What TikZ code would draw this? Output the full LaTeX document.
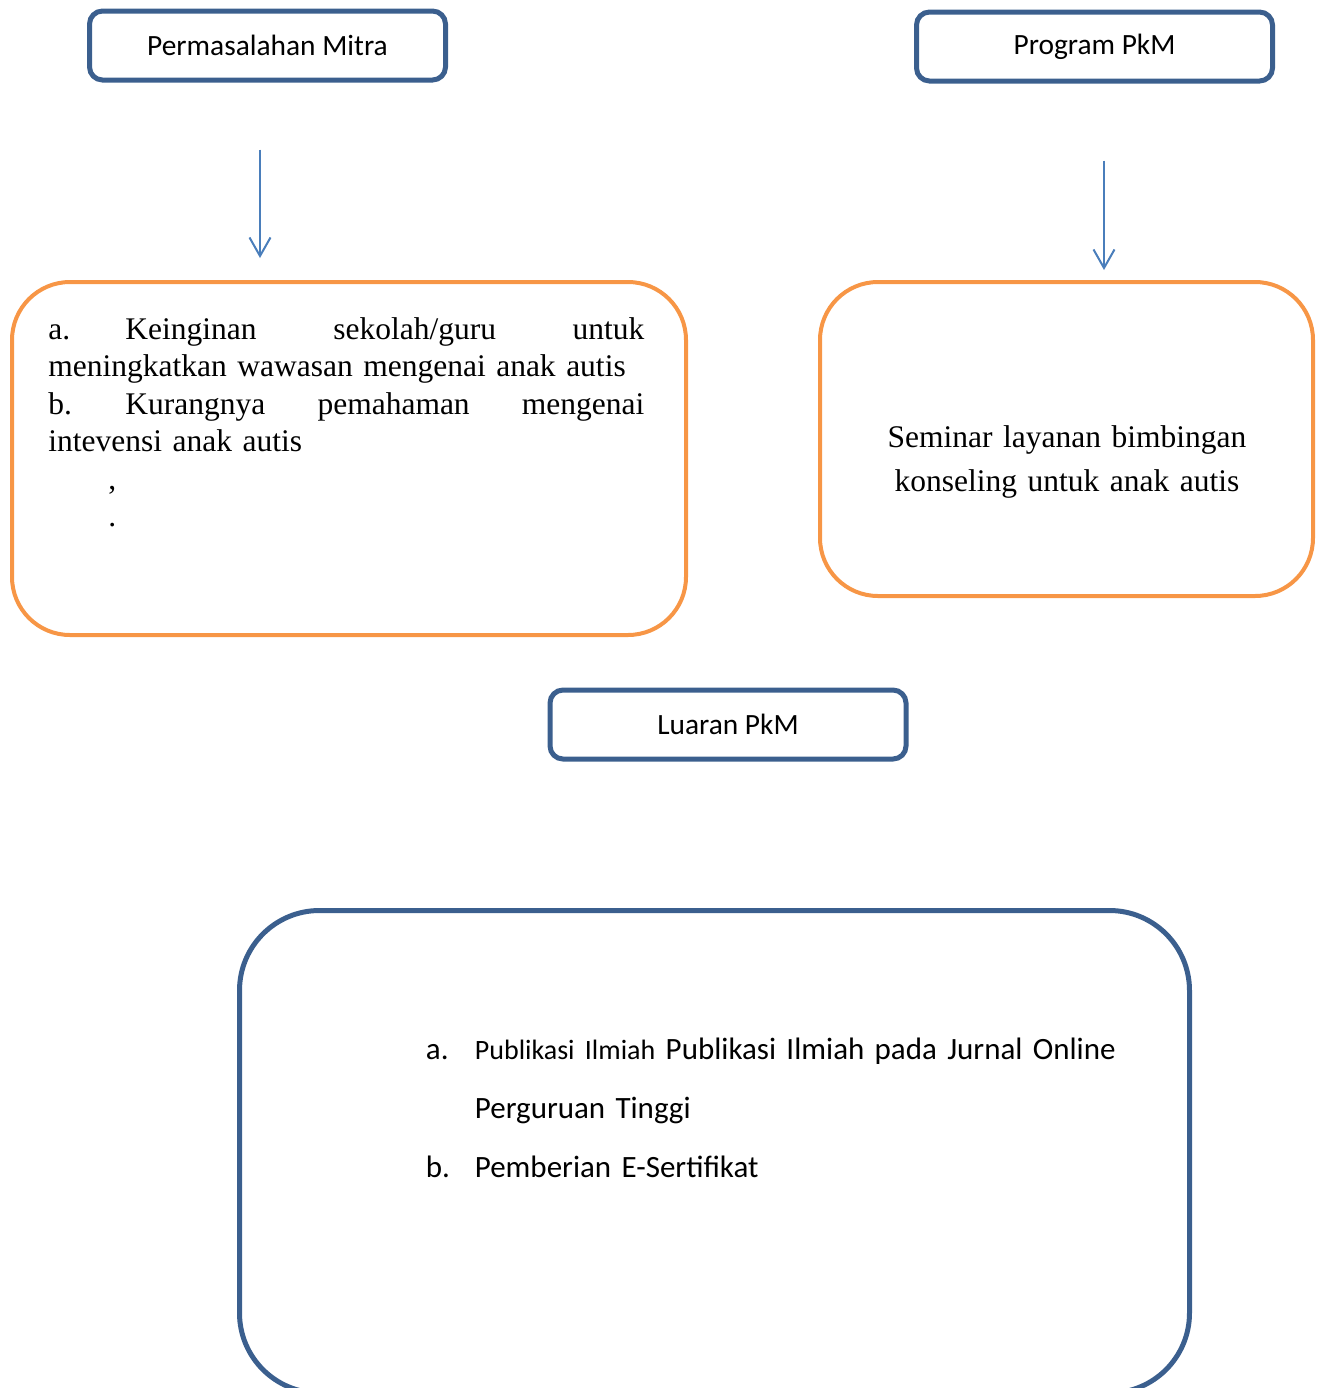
\documentclass[tikz,border=0pt]{standalone}
\usepackage{fontspec}
\setmainfont{Liberation Serif}
\newfontfamily\calibri{Carlito}
\usetikzlibrary{arrows.meta}
\definecolor{boxblue}{HTML}{3B5F8E}
\definecolor{arrowblue}{HTML}{4A7EBB}
\definecolor{boxorange}{HTML}{F79646}

\begin{document}
\begin{tikzpicture}[x=0.5pt,y=-0.5pt,
  judul/.style={draw=boxblue,line width=2.5pt,rounded corners=6.5pt,minimum width=178pt,minimum height=34.5pt,inner sep=0pt,font=\calibri\fontsize{14.7}{17}\selectfont},
  wadah/.style={draw=boxorange,line width=2pt,rounded corners=29pt,inner sep=0pt},
  teks/.style={inner sep=0pt,anchor=base west},
  flow/.style={draw=arrowblue,line width=1pt,-{Straight Barb[length=9.25pt,width=10.5pt]}}]
  \useasboundingbox (0,0) rectangle (1318,1388);
  \clip (0,0) rectangle (1318,1388);
  % title boxes
  \node[judul] (pm) at (267.5,45.5) {Permasalahan Mitra};
  \node[judul] (prog) at (1094.5,46.5) {Program PkM};
  \node[judul] (luaran) at (728,724.5) {Luaran PkM};
  % content boxes
  \node[wadah,minimum width=337pt,minimum height=176.5pt] (masalah) at (349,458.5) {};
  \node[wadah,minimum width=246.5pt,minimum height=157pt] (seminar) at (1066.5,439) {};
  \node[draw=boxblue,line width=2.5pt,rounded corners=40pt,minimum width=475pt,minimum height=241.25pt] (hasil) at (714.5,1151.75) {};
  \node[teks,text width=298pt,font=\fontsize{15.75}{18.75}\selectfont] (teksa) at ([shift={(38,59)}]masalah.north west)
    {\parindent=0pt
     \makebox[38.5pt][l]{a.}Keinginan\hfill sekolah/guru\hfill untuk\linebreak
     meningkatkan wawasan mengenai anak autis\par
     \makebox[38.5pt][l]{b.}Kurangnya\hfill pemahaman\hfill mengenai\linebreak
     intevensi anak autis\par
     \hspace*{30pt},\par
     \hspace*{30pt}.};
  \node[inner sep=0pt,anchor=base,text width=240pt,align=center,font=\fontsize{15.75}{22}\selectfont] (teksb) at ([shift={(0.5,167)}]seminar.north)
    {Seminar layanan bimbingan\\ konseling untuk anak autis};
  \node[teks,text width=380pt,align=left,font=\calibri\fontsize{15.5}{29.5}\selectfont] (teksc) at ([shift={(188.5,151.5)}]hasil.north west)
    {\makebox[24.5pt][l]{a.}{\fontsize{14}{29.5}\selectfont Publikasi Ilmiah} Publikasi Ilmiah pada Jurnal Online\\
     \hspace*{24.5pt}Perguruan Tinggi\\
     \makebox[24.5pt][l]{b.}Pemberian E-Sertifikat};
  % arrows
  \draw[flow,shorten <=33.5pt,shorten >=11pt] ([xshift=-3.75pt]pm.south) -- ([xshift=-3.75pt]pm.south |- masalah.north);
  \draw[flow,shorten <=38.5pt,shorten >=5pt] ([xshift=4.75pt]prog.south) -- ([xshift=4.75pt]prog.south |- seminar.north);
\end{tikzpicture}
\end{document}
